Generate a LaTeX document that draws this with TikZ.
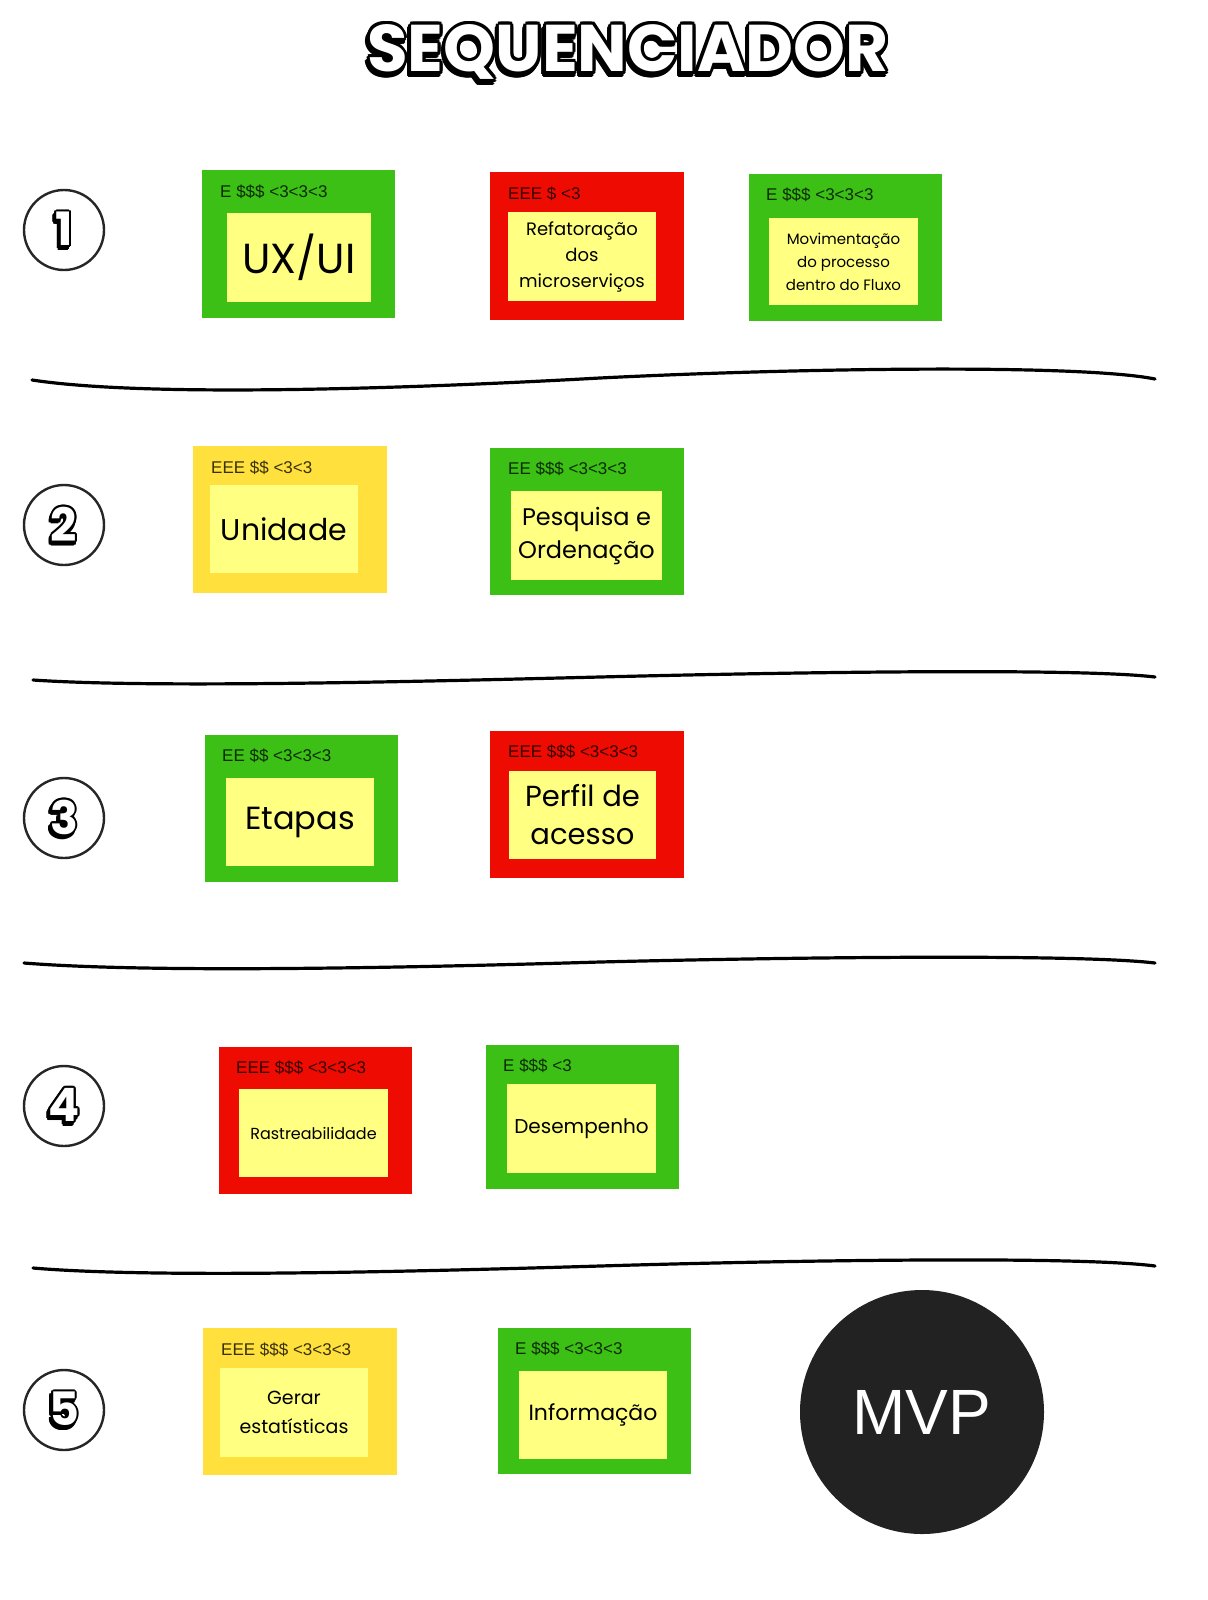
\documentclass[tikz,border=0pt]{standalone}
\usepackage{fontspec}
\usetikzlibrary{calc}
\newfontfamily\lblfont{Liberation Sans}
\newfontfamily\cardfont{Poppins}
\newfontfamily\ttlfont{Poppins}
\newfontfamily\mvpfont{Liberation Sans}
\definecolor{cgreen}{HTML}{3CC016}
\definecolor{cred}{HTML}{EE0C02}
\definecolor{cyel}{HTML}{FFE03C}
\definecolor{cinner}{HTML}{FFFF82}
\definecolor{cmvp}{HTML}{222222}
\tikzset{
 outerbox/.style n args={2}{inner sep=0pt, minimum width=#1pt, minimum height=#2pt, draw=none},
 innerbox/.style n args={2}{inner sep=0pt, minimum width=#1pt, minimum height=#2pt, fill=cinner, align=center, text=black},
 lbl/.style={anchor=west, inner sep=0pt, font=\lblfont\fontsize{17}{20}\selectfont, text=black, text opacity=0.78},
 sepline/.style={line width=3.2pt, line cap=round, draw=black},
 numring/.style={circle, draw=black!85, line width=2.4pt, minimum size=80pt, inner sep=0pt},
}
\newcommand\cfs[2]{\cardfont\fontsize{#1}{#2}\selectfont}
\newcommand\outlinetext[5]{%
 \foreach \k in {0,30,...,330} {\node[font=#3, text=black] (#1s\k) at ($(#2)+(\k:#5)+(-1.5,3)$) {#4};}%
 \foreach \k in {0,30,...,330} {\node[font=#3, text=black] (#1o\k) at ($(#2)+(\k:#5)$) {#4};}%
 \node[font=#3, text=white] (#1) at (#2) {#4};%
}
\begin{document}
\begin{tikzpicture}[x=1pt,y=-1pt]
\useasboundingbox (0,0) rectangle (1207,1600);
\fill[white] (0,0) rectangle (1207,1600);

% title
\outlinetext{title}{628,52}{\ttlfont\bfseries\fontsize{66}{66}\selectfont}{SEQUENCIADOR}{3}

% row numbers
\node[numring] (n1) at (64,230) {};
\node[numring] (n2) at (64,525) {};
\node[numring] (n3) at (64,818) {};
\node[numring] (n4) at (64,1106) {};
\node[numring] (n5) at (64,1410) {};
\outlinetext{d1}{64,229}{\ttlfont\bfseries\fontsize{46}{46}\selectfont}{1}{2}
\outlinetext{d2}{64,524}{\ttlfont\bfseries\fontsize{46}{46}\selectfont}{2}{2}
\outlinetext{d3}{64,817}{\ttlfont\bfseries\fontsize{46}{46}\selectfont}{3}{2}
\outlinetext{d4}{64,1105}{\ttlfont\bfseries\fontsize{46}{46}\selectfont}{4}{2}
\outlinetext{d5}{64,1409}{\ttlfont\bfseries\fontsize{46}{46}\selectfont}{5}{2}

% separators
\draw[sepline] (32,380) .. controls (150,398) and (420,388) .. (600,378) .. controls (800,368) and (1080,364) .. (1155,379);
\draw[sepline] (33,680) .. controls (150,688) and (400,682) .. (600,677) .. controls (800,672) and (1080,668) .. (1155,677);
\draw[sepline] (24,963) .. controls (150,973) and (400,968) .. (600,962) .. controls (800,957) and (1080,954) .. (1155,963);
\draw[sepline] (33,1268) .. controls (150,1278) and (400,1272) .. (600,1266) .. controls (800,1260) and (1080,1256) .. (1155,1266);

% row 1
\node[outerbox={193}{148}, fill=cgreen] (c1o) at (298.5,244) {};
\node[innerbox={144}{89}, font=\cfs{42}{46}] (c1i) at (299,257.5) {UX/UI};
\node[lbl] (c1l) at (220,192) {E \$\$\$ <3<3<3};

\node[outerbox={194}{148}, fill=cred] (c2o) at (587,246) {};
\node[innerbox={148}{89}, font=\cfs{18}{26}] (c2i) at (582,256.5) {Refatoração\\dos\\microserviços};
\node[lbl] (c2l) at (508,194) {EEE \$ <3};

\node[outerbox={193}{147}, fill=cgreen] (c3o) at (845.5,247.5) {};
\node[innerbox={149}{87}, font=\cfs{15}{23}] (c3i) at (843.5,261.5) {Movimentação\\do processo\\dentro do Fluxo};
\node[lbl] (c3l) at (766,195) {E \$\$\$ <3<3<3};

% row 2
\node[outerbox={194}{147}, fill=cyel] (c4o) at (290,519.5) {};
\node[innerbox={148}{88}, font=\cfs{30}{34}] (c4i) at (284,529) {Unidade};
\node[lbl] (c4l) at (211,468) {EEE \$\$ <3<3};

\node[outerbox={194}{147}, fill=cgreen] (c5o) at (587,521.5) {};
\node[innerbox={151}{89}, font=\cfs{24}{33}] (c5i) at (586.5,535.5) {Pesquisa e\\Ordenação};
\node[lbl] (c5l) at (508,469) {EE \$\$\$ <3<3<3};

% row 3
\node[outerbox={193}{147}, fill=cgreen] (c6o) at (301.5,808.5) {};
\node[innerbox={148}{88}, font=\cfs{32}{36}] (c6i) at (300,822) {Etapas};
\node[lbl] (c6l) at (222,756) {EE \$\$ <3<3<3};

\node[outerbox={194}{147}, fill=cred] (c7o) at (587,804.5) {};
\node[innerbox={147}{88}, font=\cfs{29}{38}] (c7i) at (582.5,815) {Perfil de\\acesso};
\node[lbl] (c7l) at (508,752) {EEE \$\$\$ <3<3<3};

% row 4
\node[outerbox={193}{147}, fill=cred] (c8o) at (315.5,1120.5) {};
\node[innerbox={149}{88}, font=\cfs{16}{20}] (c8i) at (313.5,1133) {Rastreabilidade};
\node[lbl] (c8l) at (236,1068) {EEE \$\$\$ <3<3<3};

\node[outerbox={193}{144}, fill=cgreen] (c9o) at (582.5,1117) {};
\node[innerbox={149}{89}, font=\cfs{20}{24}] (c9i) at (581.5,1128.5) {Desempenho};
\node[lbl] (c9l) at (503,1066) {E \$\$\$ <3};

% row 5
\node[outerbox={194}{147}, fill=cyel] (c10o) at (300,1401.5) {};
\node[innerbox={148}{89}, font=\cfs{19}{29}] (c10i) at (294,1412.5) {Gerar\\estatísticas};
\node[lbl] (c10l) at (221,1350) {EEE \$\$\$ <3<3<3};

\node[outerbox={193}{146}, fill=cgreen] (c11o) at (594.5,1401) {};
\node[innerbox={148}{88}, font=\cfs{22}{26}] (c11i) at (593,1415) {Informação};
\node[lbl] (c11l) at (515,1349) {E \$\$\$ <3<3<3};

% MVP
\node[circle, fill=cmvp, minimum size=244pt, inner sep=0pt, text=white, font=\mvpfont\fontsize{64}{64}\selectfont] (mvp) at (922,1412) {MVP};
\end{tikzpicture}
\end{document}
